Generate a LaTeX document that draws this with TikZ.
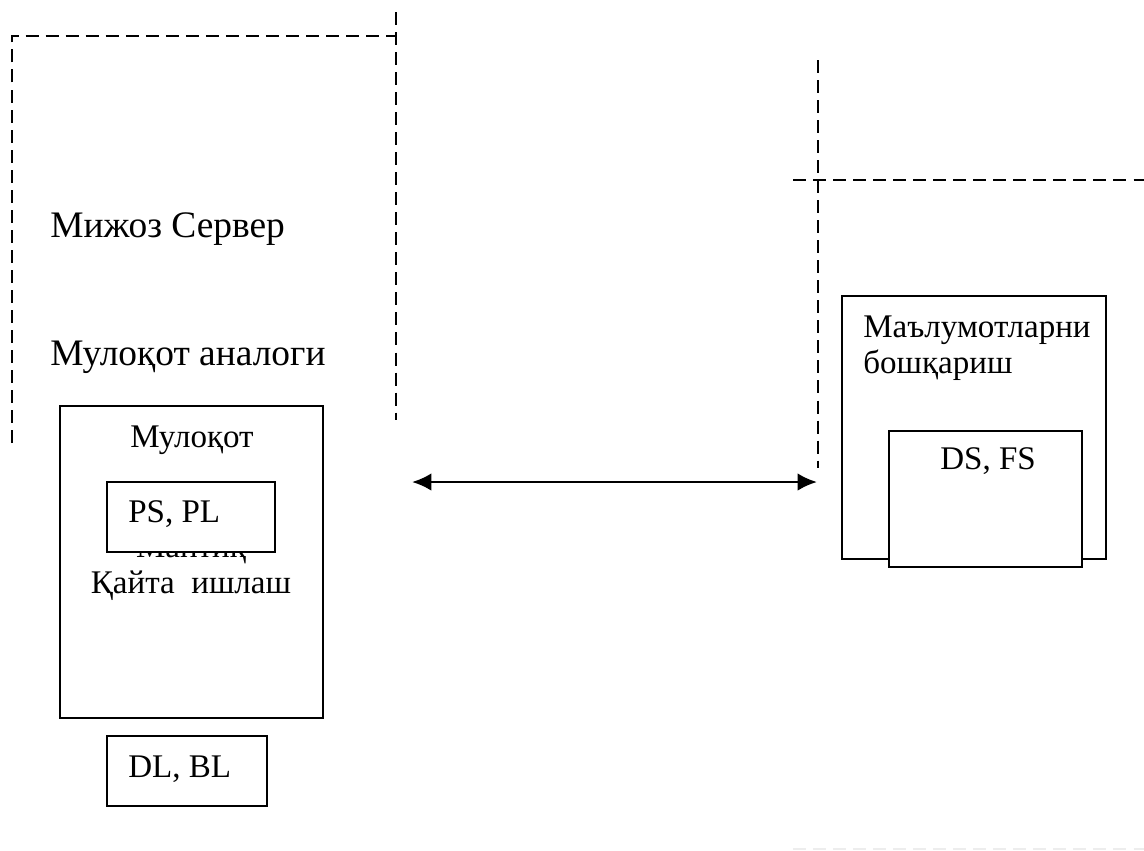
\documentclass[tikz,border=0pt]{standalone}
\usepackage{fontspec}
\setmainfont{Liberation Serif}
\usetikzlibrary{arrows.meta}

\begin{document}
\begin{tikzpicture}[x=0.02cm,y=-0.02cm,
       okvir/.style={draw,line width=0.85pt,fill=white,inner sep=0pt},
       granica/.style={line width=0.85pt,dash pattern=on 7.4pt off 4pt},
       veliki/.style={font=\fontsize{21.3}{25}\selectfont,anchor=base west,inner sep=0pt},
       mali/.style={font=\fontsize{18.8}{20.5}\selectfont,inner sep=0pt}]
       \useasboundingbox (0,0) rectangle (1144,850);

       %isprekidane granice
       \draw[granica] (12,443) -- (12,36) -- (396,36);
       \draw[granica] (396,12) -- (396,420);
       \draw[granica] (818,60) -- (818,468);
       \draw[granica] (793,180) -- (1144,180);
       \draw[granica,black!7] (793,849) -- (1144,849);

       %natpisi lijevo
       \node[veliki] (klijent) at (50,237) {Мижоз Сервер};
       \node[veliki] (analog) at (50,365) {Мулоқот аналоги};

       %lijevi blok
       \node[okvir,minimum width=5.26cm,minimum height=6.24cm] (mulokot) at (191.5,562) {};
       \node[mali,anchor=base] (naslov) at (192,447) {Мулоқот};
       \node[mali,anchor=base] (mantiq) at (191,557) {Мантиқ};
       \node[mali,anchor=base] (qayta) at (191,593) {Қайта\ \ ишлаш};
       \node[okvir,minimum width=3.36cm,minimum height=1.4cm] (pspl) at (191,517) {};
       \node[mali,anchor=base west] at (128,522) {PS, PL};
       \node[okvir,minimum width=3.2cm,minimum height=1.4cm] (dlbl) at (187,771) {};
       \node[mali,anchor=base west] at (128,777) {DL, BL};

       %desni blok
       \node[okvir,minimum width=5.28cm,minimum height=5.26cm] (upravljanje) at (974,427.5) {};
       \node[mali,anchor=base west] (podaci) at (863,337) {Маълумотларни};
       \node[mali,anchor=base west] (boshqarish) at (863,373) {бошқариш};
       \node[okvir,minimum width=3.86cm,minimum height=2.72cm] (dsfs) at (985.5,499) {};
       \node[mali,anchor=base west] at (940,469) {DS, FS};

       %strelica
       \coordinate (lijevo) at (412,482);
       \coordinate (desno) at (817,482);
       \draw[line width=1.5pt,{Latex[length=11pt,width=10pt]}-{Latex[length=11pt,width=10pt]}] (lijevo) -- (desno);

\end{tikzpicture}
\end{document}
